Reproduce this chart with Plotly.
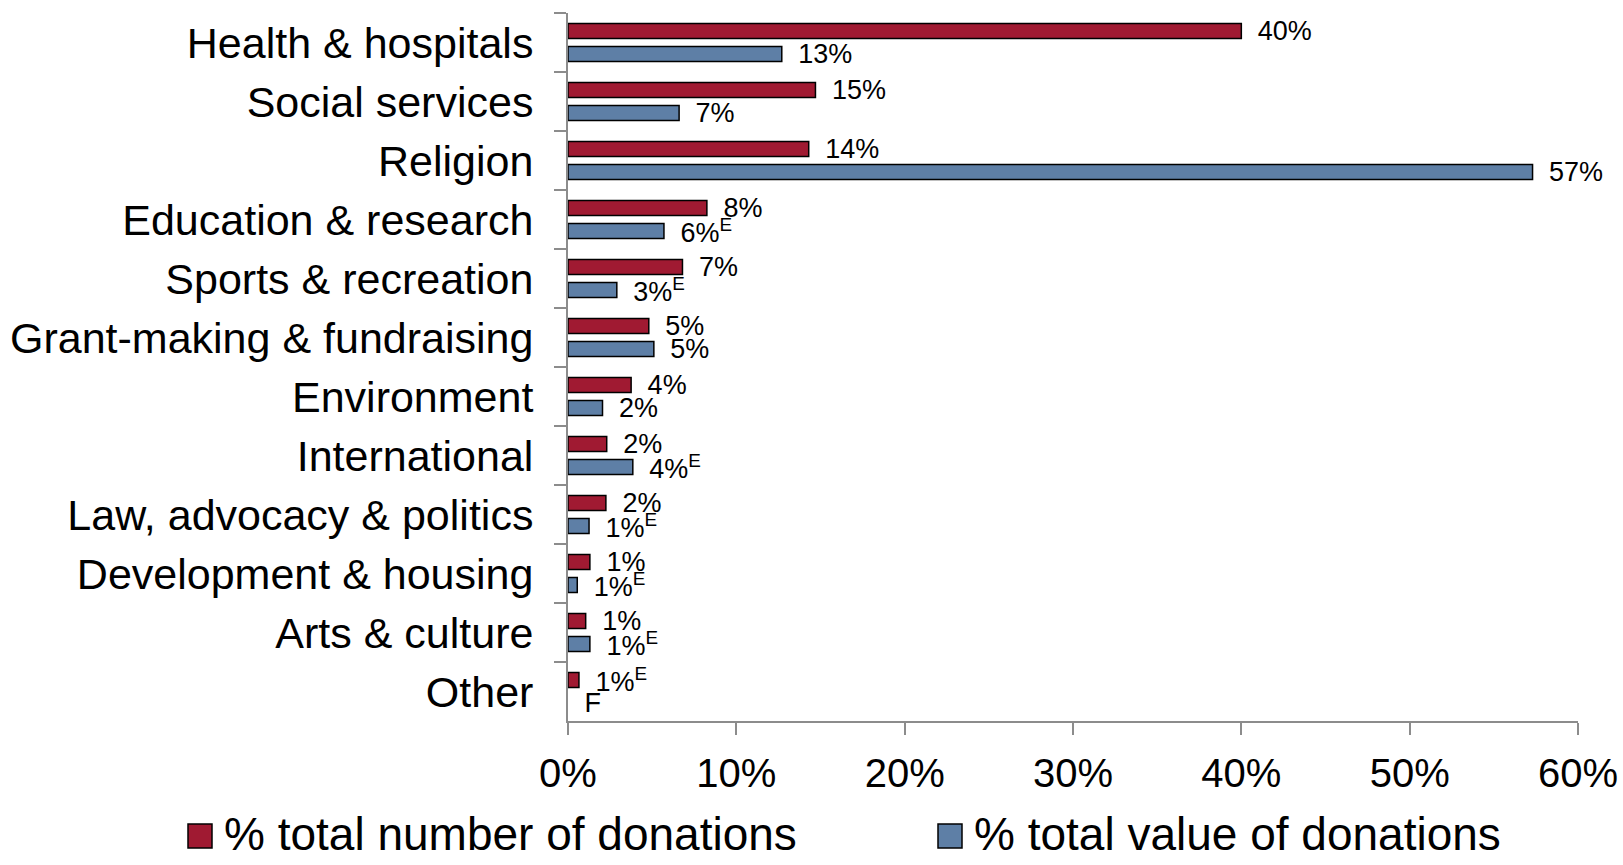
import plotly.graph_objects as go

# Cause categories, listed top to bottom
categories = [
    "Health & hospitals",
    "Social services",
    "Religion",
    "Education & research",
    "Sports & recreation",
    "Grant-making & fundraising",
    "Environment",
    "International",
    "Law, advocacy & politics",
    "Development & housing",
    "Arts & culture",
    "Other",
]

# % of total number of donations
pct_number = [40.0, 14.7, 14.3, 8.25, 6.8, 4.8, 3.75, 2.3, 2.25, 1.3, 1.05, 0.65]
number_flags = ["", "", "", "", "", "", "", "", "", "", "", "E"]

# % of total value of donations (None = too unreliable to publish)
pct_value = [12.7, 6.6, 57.3, 5.7, 2.9, 5.1, 2.05, 3.85, 1.25, 0.55, 1.3, None]
value_flags = ["", "", "", "E", "E", "", "", "E", "E", "E", "E", "F"]

series_names = ["% total number of donations", "% total value of donations"]
series_colors = ["#A01A32", "#5E7FA6"]

x_ticks = [0, 10, 20, 30, 40, 50, 60]

FONT = "Liberation Sans, Arial, Helvetica, sans-serif"
AXIS_GREY = "#8C8C8C"

W, H = 1623, 865
L, R, T, B = 568, 45, 13, 144
plot_w = W - L - R
plot_h = H - T - B


def make_labels(values, flags):
    out = []
    for v, f in zip(values, flags):
        if v is None:
            out.append("\u2002" + f)
        elif f:
            out.append(f"\u2002{round(v)}%<sup>{f}</sup>")
        else:
            out.append(f"\u2002{round(v)}%")
    return out


fig = go.Figure()
for name, vals, flags, color in [
    (series_names[0], pct_number, number_flags, series_colors[0]),
    (series_names[1], pct_value, value_flags, series_colors[1]),
]:
    xs = [0 if v is None else v for v in vals]
    widths = [0 if v is None else 1.5 for v in vals]
    fig.add_trace(go.Bar(
        y=categories,
        x=xs,
        name=name,
        orientation="h",
        marker=dict(color=color, line=dict(color="#000000", width=widths)),
        text=make_labels(vals, flags),
        textposition="outside",
        textfont=dict(family=FONT, size=27, color="#000000"),
        constraintext="none",
        cliponaxis=False,
        showlegend=False,
    ))

fig.update_layout(
    width=W,
    height=H,
    margin=dict(l=L, r=R, t=T, b=B, autoexpand=False),
    paper_bgcolor="#FFFFFF",
    plot_bgcolor="#FFFFFF",
    barmode="group",
    bargap=0.22,
    bargroupgap=0.35,
    font=dict(family=FONT, color="#000000"),
)

fig.update_xaxes(
    range=[0, 60],
    tickvals=x_ticks,
    ticktext=[f"{t}%" for t in x_ticks],
    showgrid=False,
    zeroline=False,
    showline=True,
    linecolor=AXIS_GREY,
    linewidth=2,
    ticks="outside",
    ticklen=12,
    tickwidth=2,
    tickcolor=AXIS_GREY,
    tickfont=dict(family=FONT, size=40, color="#000000"),
    ticklabelstandoff=4,
    automargin=False,
)

fig.update_yaxes(
    autorange="reversed",
    showgrid=False,
    zeroline=False,
    showline=True,
    linecolor=AXIS_GREY,
    linewidth=2,
    ticks="outside",
    tickson="boundaries",
    ticklen=12,
    tickwidth=2,
    tickcolor=AXIS_GREY,
    tickfont=dict(family=FONT, size=43, color="#000000"),
    ticklabelstandoff=24,
    automargin=False,
)


def px_x(px):
    return (px - L) / plot_w


def px_y(py):
    return (H - B - py) / plot_h


# Legend drawn as swatches plus labels below the axis
legend_items = [
    (series_names[0], series_colors[0], 188, 212, 223),
    (series_names[1], series_colors[1], 938, 962, 973),
]
for name, color, x0, x1, tx in legend_items:
    fig.add_shape(
        type="rect",
        xref="paper", yref="paper",
        x0=px_x(x0), x1=px_x(x1),
        y0=px_y(848), y1=px_y(824),
        fillcolor=color,
        line=dict(color="#000000", width=1.5),
    )
    fig.add_annotation(
        xref="paper", yref="paper",
        x=px_x(tx), y=px_y(834),
        xanchor="left", yanchor="middle",
        text=name,
        showarrow=False,
        borderpad=0,
        font=dict(family=FONT, size=46, color="#000000"),
    )

fig.write_html("out.html")
